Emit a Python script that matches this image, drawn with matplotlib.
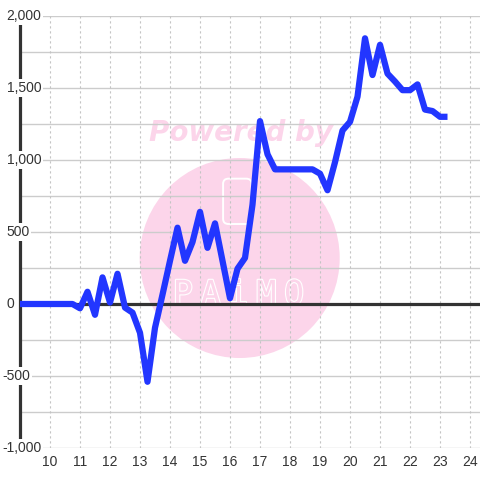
import matplotlib
matplotlib.use("Agg")
import matplotlib.pyplot as plt
from matplotlib.patches import Ellipse, FancyBboxPatch
from matplotlib import patheffects
from matplotlib.transforms import blended_transform_factory

# hours of the day (15 minute steps)
times = [9.0, 9.25, 9.5, 9.75, 10.0, 10.25, 10.5, 10.75,
         11.0, 11.25, 11.5, 11.75, 12.0, 12.25, 12.5, 12.75,
         13.0, 13.25, 13.5, 13.75, 14.0, 14.25, 14.5, 14.75,
         15.0, 15.25, 15.5, 15.75, 16.0, 16.25, 16.5, 16.75,
         17.0, 17.25, 17.5, 17.75, 18.0, 18.25, 18.5, 18.75,
         19.0, 19.25, 19.5, 19.75, 20.0, 20.25, 20.5, 20.75,
         21.0, 21.25, 21.5, 21.75, 22.0, 22.25, 22.5, 22.75,
         23.0, 23.25]
values = [0, 0, 0, 0, 0, 0, 0, 0,
          -30, 85, -75, 185, 10, 210, -25, -60,
          -200, -540, -165, 65, 300, 530, 300, 430,
          640, 390, 560, 300, 40, 245, 320, 690,
          1270, 1040, 935, 935, 935, 935, 935, 935,
          905, 790, 985, 1205, 1265, 1440, 1845, 1590,
          1800, 1600, 1545, 1485, 1485, 1525, 1350, 1340,
          1300, 1300]

x_ticks = list(range(10, 25))
y_ticks = [-1000, -500, 0, 500, 1000, 1500, 2000]
y_labels = ["-1,000", "-500", "0", "500", "1,000", "1,500", "2,000"]
y_grid = list(range(-1000, 2001, 250))
logo_letters = ["P", "A", "i", "M", "O"]

LINE = "#2236ff"
DARK = "#333333"
GRID = "#cccccc"
PINK = "#fcd5ea"

fig = plt.figure(figsize=(4.8, 4.8), dpi=100)
ax = fig.add_axes([20 / 480, 32 / 480, 460 / 480, 432 / 480])
ax.set_xlim(9, 24.333)
ax.set_ylim(-1000, 2000)
for s in ax.spines.values():
    s.set_visible(False)

# watermark
ax.add_patch(Ellipse((0.4776, 0.4398), 200 / 460, 200 / 432, transform=ax.transAxes,
                     facecolor=PINK, edgecolor="none", zorder=0.2))
ax.add_patch(FancyBboxPatch((0.4415, 0.5185), 0.062, 0.105, transform=ax.transAxes,
                            boxstyle="round,pad=0.0,rounding_size=0.012",
                            facecolor="none", edgecolor="white", lw=1.4, zorder=0.3))
for i, letter in enumerate(logo_letters):
    ax.text(0.354 + i * 0.0605, 0.355, letter, transform=ax.transAxes,
            ha="center", va="center", fontsize=24, family="DejaVu Sans Mono",
            color=PINK, zorder=0.3,
            path_effects=[patheffects.withStroke(linewidth=1.6, foreground="white")])
ax.text(0.4815, 0.729, "Powered by", transform=ax.transAxes, ha="center", va="center",
        fontsize=20, fontweight="bold", fontstyle="italic", family="DejaVu Sans",
        color=PINK, zorder=0.3)

# grid
ax.set_xticks(x_ticks)
ax.set_xticklabels([str(t) for t in x_ticks], family="Liberation Sans",
                   fontsize=10, color=DARK)
ax.set_yticks(y_grid)
ax.set_yticklabels([])
ax.tick_params(length=0, pad=5)
for y in y_grid:
    ax.axhline(y, color=GRID, lw=1, zorder=0.5)
for x in x_ticks:
    ax.axvline(x, color="#c4c4c4", lw=0.8, ls=(0, (2, 2.5)), zorder=0.5)

ax.axhline(0, color=DARK, lw=2.3, zorder=2)
ax.axvline(9, color=DARK, lw=2.3, zorder=2, clip_on=False)

ax.plot(times, values, color=LINE, lw=4.5, zorder=3, solid_joinstyle="round",
        solid_capstyle="butt")

# y labels sit over the axis line with a white background
tr = blended_transform_factory(fig.transFigure, ax.transData)
for y, lab in zip(y_ticks, y_labels):
    x0 = 2.5 / 480 if lab.startswith("-") else 6.5 / 480
    ax.text(x0, y, lab, transform=tr, ha="left", va="center", family="Liberation Sans",
            fontsize=10, color=DARK, zorder=4, clip_on=False,
            bbox=dict(facecolor="white", edgecolor="none", pad=1.2))

fig.savefig("out.png", dpi=100, facecolor="white")
